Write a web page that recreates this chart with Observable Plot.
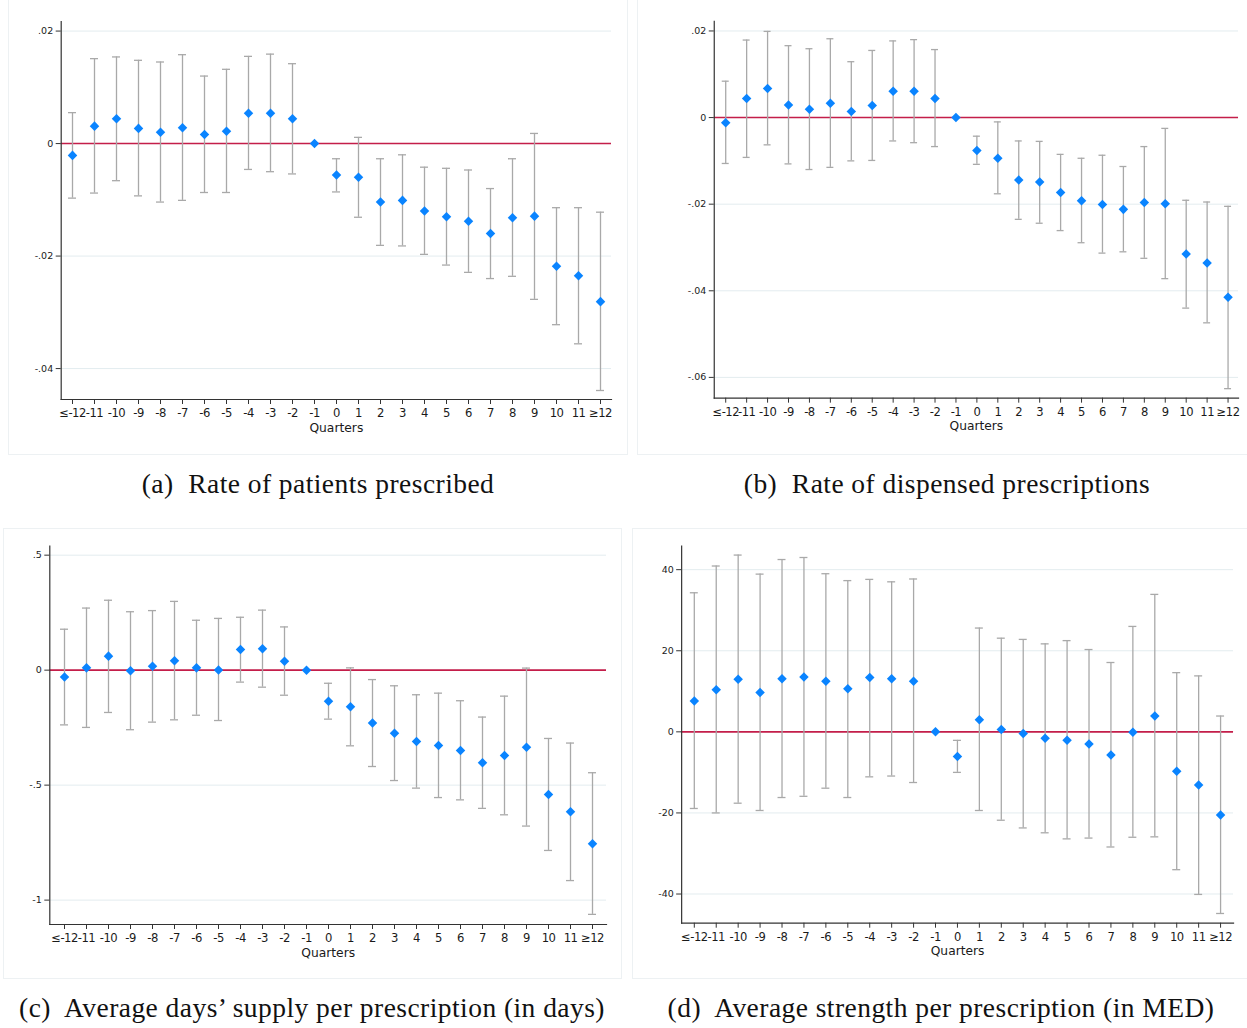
<!DOCTYPE html>
<html>
<head>
<meta charset="utf-8">
<script src="https://cdn.jsdelivr.net/npm/d3@7"></script>
<script src="https://cdn.jsdelivr.net/npm/@observablehq/plot@0.6"></script>
<style>
  html, body { margin: 0; padding: 0; background: #fff; }
  #page { position: relative; width: 1247px; height: 1028px; overflow: hidden; background: #fff; }
  .panel { position: absolute; }
  .box { position: absolute; border: 1px solid #edf1f3; box-sizing: border-box; }
  .caption {
    position: absolute; white-space: pre; text-align: center;
    font-family: "Liberation Serif", "Times New Roman", serif;
    font-size: 27.5px; letter-spacing: 0.45px; color: #111; transform: translateX(-50%);
  }
  .xticks text { letter-spacing: -0.5px; }
</style>
</head>
<body>
<div id="page"></div>
<script>
// Event-time bins (quarters relative to the policy change)
const quarters = ["≤-12","-11","-10","-9","-8","-7","-6","-5","-4","-3","-2","-1",
                  "0","1","2","3","4","5","6","7","8","9","10","11","≥12"];

// (a) Rate of patients prescribed
const patientsEst = [-0.0021, 0.0031, 0.0044, 0.0027, 0.0020, 0.0028, 0.0016, 0.0022, 0.0054, 0.0054, 0.0044, 0,
  -0.0056, -0.0060, -0.0104, -0.0101, -0.0120, -0.0130, -0.0138, -0.0160, -0.0132, -0.0129, -0.0218, -0.0235, -0.0281];
const patientsHi = [0.0055, 0.0151, 0.0154, 0.0148, 0.0145, 0.0158, 0.0120, 0.0132, 0.0155, 0.0159, 0.0142, null,
  -0.0027, 0.0011, -0.0027, -0.0020, -0.0042, -0.0044, -0.0047, -0.0080, -0.0027, 0.0018, -0.0114, -0.0114, -0.0122];
const patientsLo = [-0.0097, -0.0088, -0.0066, -0.0093, -0.0104, -0.0101, -0.0087, -0.0087, -0.0046, -0.0050, -0.0054, null,
  -0.0086, -0.0131, -0.0181, -0.0182, -0.0197, -0.0216, -0.0229, -0.0240, -0.0236, -0.0277, -0.0322, -0.0356, -0.0439];

// (b) Rate of dispensed prescriptions
const dispensedEst = [-0.0012, 0.0044, 0.0067, 0.0029, 0.0019, 0.0033, 0.0014, 0.0028, 0.0061, 0.0061, 0.0044, 0,
  -0.0076, -0.0094, -0.0144, -0.0149, -0.0173, -0.0192, -0.0201, -0.0212, -0.0196, -0.0199, -0.0315, -0.0336, -0.0415];
const dispensedHi = [0.0084, 0.0179, 0.0199, 0.0166, 0.0159, 0.0182, 0.0129, 0.0155, 0.0177, 0.0180, 0.0157, null,
  -0.0043, -0.0010, -0.0054, -0.0055, -0.0085, -0.0094, -0.0087, -0.0113, -0.0067, -0.0025, -0.0191, -0.0195, -0.0205];
const dispensedLo = [-0.0106, -0.0092, -0.0063, -0.0107, -0.0120, -0.0115, -0.0100, -0.0099, -0.0054, -0.0058, -0.0067, null,
  -0.0108, -0.0176, -0.0235, -0.0244, -0.0261, -0.0289, -0.0313, -0.0310, -0.0325, -0.0372, -0.0440, -0.0474, -0.0626];

// (c) Average days' supply per prescription
const supplyEst = [-0.030, 0.010, 0.061, -0.003, 0.017, 0.041, 0.010, 0.001, 0.090, 0.093, 0.039, 0,
  -0.135, -0.159, -0.230, -0.274, -0.310, -0.328, -0.349, -0.403, -0.371, -0.335, -0.541, -0.616, -0.755];
const supplyHi = [0.178, 0.270, 0.304, 0.254, 0.259, 0.299, 0.217, 0.225, 0.230, 0.261, 0.188, null,
  -0.057, 0.010, -0.041, -0.068, -0.107, -0.100, -0.133, -0.204, -0.113, 0.009, -0.297, -0.317, -0.446];
const supplyLo = [-0.238, -0.249, -0.184, -0.259, -0.226, -0.216, -0.196, -0.219, -0.052, -0.074, -0.109, null,
  -0.213, -0.329, -0.419, -0.480, -0.513, -0.554, -0.564, -0.601, -0.629, -0.678, -0.784, -0.915, -1.062];

// (d) Average strength per prescription (MED)
const strengthEst = [7.6, 10.4, 13.0, 9.7, 13.1, 13.5, 12.5, 10.6, 13.4, 13.1, 12.5, 0,
  -6.1, 3.0, 0.6, -0.4, -1.6, -2.1, -3.0, -5.7, -0.1, 3.9, -9.7, -13.1, -20.5];
const strengthHi = [34.3, 40.9, 43.6, 38.9, 42.5, 43.0, 39.0, 37.3, 37.6, 37.0, 37.7, null,
  -2.1, 25.6, 23.1, 22.8, 21.7, 22.5, 20.3, 17.1, 26.0, 33.9, 14.6, 13.8, 3.9];
const strengthLo = [-18.9, -20.0, -17.6, -19.4, -16.2, -15.9, -13.9, -16.2, -11.1, -10.9, -12.5, null,
  -10.0, -19.4, -21.8, -23.7, -24.9, -26.4, -26.2, -28.4, -26.0, -25.9, -34.0, -40.1, -44.8];

// y-axis ticks and their labels per panel
const patientsTicks = [0.02, 0, -0.02, -0.04];
const patientsTickLabels = [".02", "0", "-.02", "-.04"];
const dispensedTicks = [0.02, 0, -0.02, -0.04, -0.06];
const dispensedTickLabels = [".02", "0", "-.02", "-.04", "-.06"];
const supplyTicks = [0.5, 0, -0.5, -1];
const supplyTickLabels = [".5", "0", "-.5", "-1"];
const strengthTicks = [40, 20, 0, -20, -40];
const strengthTickLabels = ["40", "20", "0", "-20", "-40"];

const captions = [
  "(a)  Rate of patients prescribed",
  "(b)  Rate of dispensed prescriptions",
  "(c)  Average days’ supply per prescription (in days)",
  "(d)  Average strength per prescription (in MED)"
];

const page = document.getElementById("page");

function eventStudy({est, lo, hi, ticks, tickLabels, yDomain, width, height, margin}) {
  const rows = quarters.map((q, i) => ({q, est: est[i], lo: lo[i], hi: hi[i]}));
  const ci = rows.filter(d => d.lo != null);
  const ciColor = "#a9a9a9";
  return Plot.plot({
    width, height,
    marginLeft: margin[0], marginRight: margin[1], marginTop: margin[2], marginBottom: margin[3],
    style: {fontFamily: "DejaVu Sans", color: "#1a1a1a", background: "transparent", overflow: "visible"},
    x: {type: "band", domain: quarters, padding: 0},
    y: {domain: yDomain},
    marks: [
      Plot.gridY(ticks, {stroke: "#e3ecef", strokeOpacity: 1, strokeWidth: 1}),
      Plot.ruleY([0], {stroke: "#c41e4a", strokeWidth: 1.6}),
      Plot.ruleX(ci, {x: "q", y1: "lo", y2: "hi", stroke: ciColor, strokeWidth: 1.3}),
      Plot.tickY(ci, {x: "q", y: "hi", stroke: ciColor, strokeWidth: 1.3, insetLeft: 7, insetRight: 7}),
      Plot.tickY(ci, {x: "q", y: "lo", stroke: ciColor, strokeWidth: 1.3, insetLeft: 7, insetRight: 7}),
      Plot.dot(rows, {x: "q", y: "est", symbol: "diamond2", r: 4.3, fill: "#0a84ff", stroke: "none"}),
      Plot.axisY({ticks, tickFormat: d => tickLabels[ticks.indexOf(d)], tickSize: 5, tickPadding: 3,
                  fontSize: 9.5, label: null, stroke: "#333"}),
      Plot.axisX({tickSize: 5, tickPadding: 4.5, fontSize: 11.6, label: null, stroke: "#333", className: "xticks"}),
      Plot.axisX({ticks: [], tickSize: 0, label: "Quarters", labelAnchor: "center", labelOffset: 32, fontSize: 12.3}),
      Plot.frame({anchor: "left", stroke: "#333", strokeWidth: 1.2}),
      Plot.frame({anchor: "bottom", stroke: "#333", strokeWidth: 1.2})
    ]
  });
}

const panels = [
  {est: patientsEst, lo: patientsLo, hi: patientsHi, ticks: patientsTicks, tickLabels: patientsTickLabels,
   yDomain: [-0.0455, 0.0217], left: 8, top: 0, width: 620, height: 455, margin: [52.7, 17, 21, 56],
   capX: 318, capY: 468},
  {est: dispensedEst, lo: dispensedLo, hi: dispensedHi, ticks: dispensedTicks, tickLabels: dispensedTickLabels,
   yDomain: [-0.0648, 0.0222], left: 637, top: 0, width: 612, height: 455, margin: [77, 9, 21, 56],
   capX: 947, capY: 468},
  {est: supplyEst, lo: supplyLo, hi: supplyHi, ticks: supplyTicks, tickLabels: supplyTickLabels,
   yDomain: [-1.106, 0.539], left: 3, top: 530, width: 619, height: 449, margin: [46.3, 16, 15.7, 55],
   capX: 312, capY: 992},
  {est: strengthEst, lo: strengthLo, hi: strengthHi, ticks: strengthTicks, tickLabels: strengthTickLabels,
   yDomain: [-47.2, 45.8], left: 632, top: 530, width: 617, height: 449, margin: [49.3, 14, 15.7, 55],
   capX: 941, capY: 992}
];

panels.forEach((p, i) => {
  const box = document.createElement("div");
  box.className = "box";
  Object.assign(box.style, {left: p.left + "px", top: (p.top - 2) + "px", width: p.width + "px", height: (p.height + 2) + "px"});
  page.appendChild(box);

  const holder = document.createElement("div");
  holder.className = "panel";
  Object.assign(holder.style, {left: p.left + "px", top: p.top + "px"});
  holder.appendChild(eventStudy(p));
  page.appendChild(holder);

  const cap = document.createElement("div");
  cap.className = "caption";
  cap.textContent = captions[i];
  Object.assign(cap.style, {left: p.capX + "px", top: p.capY + "px"});
  page.appendChild(cap);
});
</script>
</body>
</html>
